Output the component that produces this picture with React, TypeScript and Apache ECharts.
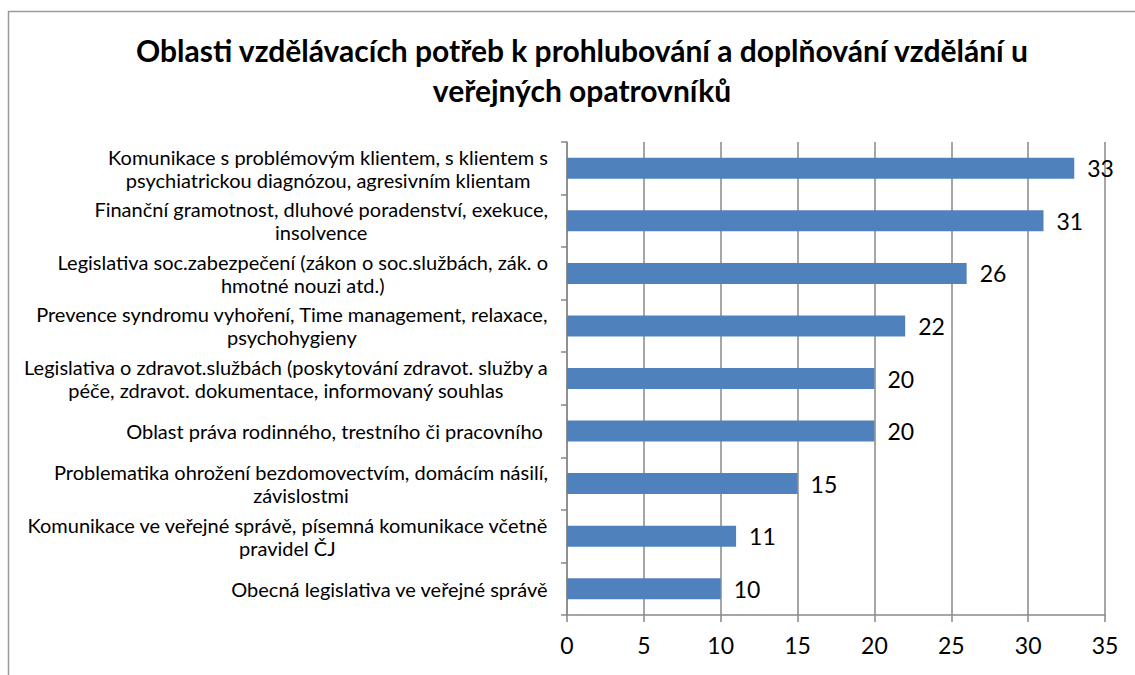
import React, { useEffect, useRef } from "react";
import * as echarts from "echarts";

const categories = [
  "Komunikace s problémovým klientem, s klientem s\npsychiatrickou diagnózou, agresivním klientam",
  "Finanční gramotnost, dluhové poradenství, exekuce,\ninsolvence",
  "Legislativa soc.zabezpečení (zákon o soc.službách, zák. o\nhmotné nouzi atd.)",
  "Prevence syndromu vyhoření, Time management, relaxace,\npsychohygieny",
  "Legislativa o zdravot.službách (poskytování zdravot. služby a\npéče, zdravot. dokumentace, informovaný souhlas",
  "Oblast práva rodinného, trestního či pracovního ",
  "Problematika ohrožení bezdomovectvím, domácím násilí,\nzávislostmi",
  "Komunikace ve veřejné správě, písemná komunikace včetně\npravidel ČJ",
  "Obecná legislativa ve veřejné správě",
];
const values = [33, 31, 26, 22, 20, 20, 15, 11, 10];
const titleText =
  "Oblasti vzdělávacích potřeb k prohlubování a doplňování vzdělání u\nveřejných opatrovníků";

const FONT = "Lato, 'Liberation Sans', sans-serif";

export default function App() {
  const ref = useRef<HTMLDivElement>(null);
  useEffect(() => {
    if (!ref.current) return;
    const chart = echarts.init(ref.current, undefined, { renderer: "svg" });
    chart.setOption({
      animation: false,
      backgroundColor: "#ffffff",
      graphic: [
        {
          type: "rect",
          shape: { x: 8.5, y: 11.5, width: 1300, height: 900 },
          style: { fill: "none", stroke: "#9a9a9a", lineWidth: 1.5 },
          silent: true,
        },
      ],
      title: {
        text: titleText,
        left: 577,
        top: 25,
        textAlign: "center",
        textStyle: {
          fontFamily: FONT,
          fontSize: 30,
          fontWeight: "bold",
          color: "#000",
          lineHeight: 40,
        },
      },
      grid: { left: 567, right: 30, top: 142, bottom: 60, containLabel: false },
      xAxis: {
        type: "value",
        min: 0,
        max: 35,
        interval: 5,
        axisLine: { show: true, lineStyle: { color: "#888888", width: 1.5 } },
        axisTick: { show: true, length: 7, lineStyle: { color: "#888888", width: 1.5 } },
        splitLine: { show: true, lineStyle: { color: "#888888", width: 1.5 } },
        axisLabel: { fontFamily: FONT, fontSize: 23, color: "#000", margin: 18 },
      },
      yAxis: {
        type: "category",
        inverse: true,
        data: categories,
        axisLine: { show: true, lineStyle: { color: "#888888", width: 1.5 } },
        axisTick: { show: true, length: 6, lineStyle: { color: "#888888", width: 1.5 } },
        axisLabel: {
          margin: 19,
          align: "right",
          formatter: (v: string) =>
            v
              .split("\n")
              .map((l) => `{c|${l}}`)
              .join("\n"),
          rich: {
            c: {
              align: "center",
              fontFamily: FONT,
              fontSize: 20,
              lineHeight: 23,
              color: "#000",
            },
          },
        },
      },
      series: [
        {
          type: "bar",
          data: values,
          barWidth: 21,
          itemStyle: { color: "#4F81BD" },
          label: {
            show: true,
            position: "right",
            distance: 13,
            fontFamily: FONT,
            fontSize: 23,
            color: "#000",
          },
        },
      ],
    });
    return () => chart.dispose();
  }, []);
  return (
    <div
      ref={ref}
      style={{ position: "absolute", left: 0, top: 0, width: 1135, height: 675 }}
    />
  );
}
